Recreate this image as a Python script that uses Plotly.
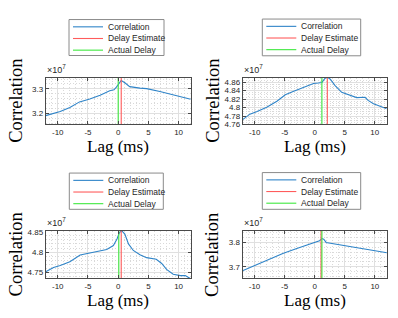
import plotly.graph_objects as go

# ---- data (correlation values in units of 1e7) ----
lag1 = [-12, -9.6, -8, -6.4, -4.7, -3, -1.4, -0.7, -0.3, 0.3, 0.5, 1.1, 1.9, 3.6, 4.7, 6.9, 9.1, 12]
corr1 = [3.191, 3.208, 3.224, 3.247, 3.259, 3.274, 3.292, 3.296, 3.307, 3.329, 3.334, 3.325, 3.309, 3.303, 3.301, 3.289, 3.276, 3.258]
est1, act1 = 0.5, 0.0

lag2 = [-12, -10.8, -9.7, -8, -6.3, -4.9, -3.6, -1.9, -0.2, 0.6, 1.2, 1.7, 2.1, 2.6, 3.4, 4.5, 5.9, 7, 8.4, 8.9, 9.8, 10.9, 12]
corr2 = [4.7715, 4.7845, 4.790, 4.8006, 4.815, 4.8304, 4.838, 4.847, 4.857, 4.858, 4.8595, 4.869, 4.872, 4.867, 4.852, 4.836, 4.829, 4.8235, 4.8243, 4.817, 4.809, 4.803, 4.797]
est2, act2 = 2.1, 1.2

lag3 = [-12, -10.7, -9.6, -8, -6.3, -4.9, -3.3, -1.9, -0.8, -0.2, 0.2, 0.6, 1.1, 1.7, 2.5, 3.6, 4.7, 6.3, 7.2, 8, 9.1, 10.3, 11.1, 12]
corr3 = [4.7516, 4.762, 4.767, 4.7766, 4.793, 4.797, 4.8016, 4.8064, 4.816, 4.832, 4.848, 4.852, 4.844, 4.82, 4.804, 4.7936, 4.7864, 4.7824, 4.772, 4.7576, 4.7456, 4.7424, 4.7424, 4.7344]
est3, act3 = 0.5, 0.1

lag4 = [-12, -9.7, -7.5, -5.3, -3.1, -0.9, 0.8, 1.2, 1.5, 1.9, 3.6, 6.3, 9.1, 12]
corr4 = [3.684, 3.708, 3.730, 3.755, 3.774, 3.792, 3.807, 3.816, 3.813, 3.800, 3.793, 3.782, 3.770, 3.758]
est4, act4 = 1.05, 1.2

legend_names = ["Correlation", "Delay Estimate", "Actual Delay"]
xtick_vals = [-10, -5, 0, 5, 10]
xtick_text = ["-10", "-5", "0", "5", "10"]
ytick_vals = [[3.2, 3.3], [4.76, 4.78, 4.80, 4.82, 4.84, 4.86], [4.75, 4.80, 4.85], [3.7, 3.8]]
ytick_text = [["3.2", "3.3"], ["4.76", "4.78", "4.8", "4.82", "4.84", "4.86"], ["4.75", "4.8", "4.85"], ["3.7", "3.8"]]
yranges = [[3.155, 3.346], [4.76, 4.871], [4.7357, 4.8515], [3.654, 3.848]]
yminor = [0.02, 0.005, 0.01, 0.02]

series = [(lag1, corr1, est1, act1), (lag2, corr2, est2, act2),
          (lag3, corr3, est3, act3), (lag4, corr4, est4, act4)]

W, H = 398, 318
# axes boxes in pixels: (left, right, top, bottom)
boxes = [(45.7, 190.7, 75.7, 124), (242.7, 386.7, 75.7, 124),
         (45.7, 190.7, 233.7, 282.3), (242.5, 386.9, 233.3, 282.1)]
# legend boxes in pixels: (left, right, top, bottom)
legboxes = [(69, 164, 16, 53), (262.3, 360.7, 15.5, 53.3),
            (69.3, 163.3, 174, 211.3), (262.3, 360.7, 173.5, 211.3)]

BLUE = "#2f84c8"
RED = "#ff5c5c"
GREEN = "#3ee83e"
COLORS = [BLUE, RED, GREEN]
AX = "#4a4a4a"
TXT = "#262626"


def px(xp):
    return xp / W


def py(yp):
    return 1 - yp / H


fig = go.Figure()
layout = dict(width=W, height=H, margin=dict(l=0, r=0, t=0, b=0),
              paper_bgcolor="white", plot_bgcolor="white", annotations=[], shapes=[],
              showlegend=False)

for i, ((lag, corr, est, act), (l, r, t, b)) in enumerate(zip(series, boxes)):
    n = "" if i == 0 else str(i + 1)
    xa, ya = "x" + n, "y" + n
    yr = yranges[i]
    fig.add_trace(go.Scatter(x=lag, y=corr, mode="lines", name=legend_names[0],
                             line=dict(color=BLUE, width=1.1), xaxis=xa, yaxis=ya,
                             hoverinfo="skip"))
    fig.add_trace(go.Scatter(x=[est, est], y=yr, mode="lines", name=legend_names[1],
                             line=dict(color=RED, width=1.1), xaxis=xa, yaxis=ya,
                             hoverinfo="skip"))
    fig.add_trace(go.Scatter(x=[act, act], y=yr, mode="lines", name=legend_names[2],
                             line=dict(color=GREEN, width=1.1), xaxis=xa, yaxis=ya,
                             hoverinfo="skip"))
    common = dict(showline=True, linecolor=AX, linewidth=1, mirror="ticks",
                  ticks="inside", ticklen=3, tickcolor=AX, showgrid=True,
                  gridcolor="#e0e0e0", gridwidth=1, zeroline=False,
                  tickfont=dict(family="Liberation Sans", size=8, color=TXT))
    minor_common = dict(showgrid=True, griddash="1px,2px", gridcolor="#d9d9d9", gridwidth=1)
    layout["xaxis" + n] = dict(common, domain=[px(l), px(r)], range=[-12, 12],
                               anchor=ya, tickvals=xtick_vals, ticktext=xtick_text,
                               minor=dict(minor_common, dtick=1, tick0=0))
    layout["yaxis" + n] = dict(common, domain=[py(b), py(t)], range=yr,
                               anchor=xa, tickvals=ytick_vals[i], ticktext=ytick_text[i],
                               minor=dict(minor_common, dtick=yminor[i], tick0=0))
    cx = (l + r) / 2
    layout["annotations"] += [
        dict(text="Correlation", x=px(l - 30), y=py((t + b) / 2), xref="paper",
             yref="paper", textangle=-90, showarrow=False, xanchor="center",
             yanchor="middle", font=dict(family="Liberation Serif", size=18.5, color="black")),
        dict(text="Lag (ms)", x=px(cx), y=py(b + 23), xref="paper", yref="paper",
             showarrow=False, xanchor="center", yanchor="middle",
             font=dict(family="Liberation Serif", size=17, color="black")),
        dict(text="×10<sup>7</sup>", x=px(l - 1), y=py(t - 1), xref="paper",
             yref="paper", showarrow=False, xanchor="left", yanchor="bottom",
             font=dict(family="Liberation Sans", size=9, color=TXT)),
    ]
    # legend box
    L, R, T, B = legboxes[i]
    layout["shapes"].append(dict(type="rect", xref="paper", yref="paper",
                                 x0=px(L), x1=px(R), y0=py(B), y1=py(T),
                                 line=dict(color="#8a8a8a", width=1), fillcolor="white",
                                 layer="above"))
    for k, (name, col) in enumerate(zip(legend_names, COLORS)):
        rowy = T + 7.5 + k * 12
        layout["shapes"].append(dict(type="line", xref="paper", yref="paper",
                                     x0=px(L + 4), x1=px(L + 34), y0=py(rowy), y1=py(rowy),
                                     line=dict(color=col, width=1.1), layer="above"))
        layout["annotations"].append(dict(text=name, x=px(L + 37), y=py(rowy),
                                          xref="paper", yref="paper", showarrow=False,
                                          xanchor="left", yanchor="middle",
                                          font=dict(family="Liberation Sans", size=8.5,
                                                    color=TXT)))

fig.update_layout(**layout)
fig.write_html("out.html", config={"displayModeBar": False},
               post_script="document.body.style.margin='0';")
